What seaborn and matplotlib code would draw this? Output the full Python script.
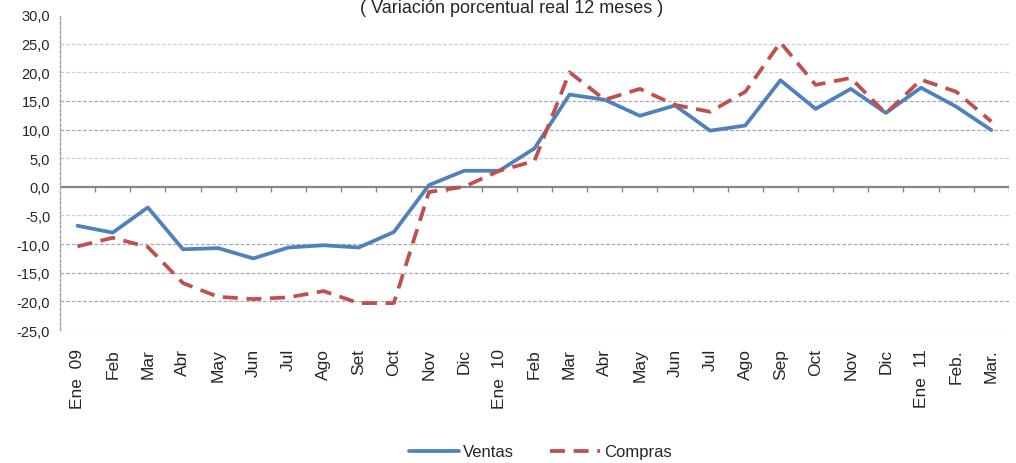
import pandas as pd
import matplotlib.pyplot as plt
import seaborn as sns
from matplotlib.ticker import FuncFormatter

# datos
meses = ['Ene  09', 'Feb', 'Mar', 'Abr', 'May', 'Jun', 'Jul', 'Ago', 'Set', 'Oct', 'Nov', 'Dic',
         'Ene  10', 'Feb', 'Mar', 'Abr', 'May', 'Jun', 'Jul', 'Ago', 'Sep', 'Oct', 'Nov', 'Dic',
         'Ene  11', 'Feb.', 'Mar.']
ventas = [-6.8, -8.0, -3.6, -10.9, -10.7, -12.5, -10.6, -10.2, -10.6, -7.9, 0.3, 2.8,
          2.8, 6.7, 16.1, 15.2, 12.4, 14.2, 9.8, 10.7, 18.6, 13.6, 17.1, 12.9,
          17.3, 14.0, 9.9]
compras = [-10.4, -8.9, -10.5, -16.8, -19.2, -19.6, -19.3, -18.2, -20.3, -20.3, -0.9, 0.0,
           2.8, 4.5, 20.0, 15.2, 17.1, 14.3, 13.1, 16.6, 25.2, 17.8, 19.0, 12.8,
           18.7, 16.6, 11.4]
y_ticks = [30, 25, 20, 15, 10, 5, 0, -5, -10, -15, -20, -25]

sns.set_style('white')
plt.rcParams['font.family'] = ['Liberation Sans', 'DejaVu Sans']

n = len(meses)
df = pd.DataFrame({
    'pos': list(range(n)) * 2,
    'valor': ventas + compras,
    'serie': ['Ventas'] * n + ['Compras'] * n,
})

fig = plt.figure(figsize=(10.16, 4.64), dpi=100)
ax = fig.add_axes([0.059, 0.2866, 0.934, 0.679])

for v in y_ticks:
    if v in (0, 30):
        continue
    c = '#a8a8b4' if abs(v) in (10, 15, 20) and v != 20 else '#cfcfd6'
    ax.axhline(v, color=c, lw=0.9, ls=(0, (3, 1.5)), zorder=0)

sns.lineplot(data=df, x='pos', y='valor', hue='serie', style='serie',
             palette={'Ventas': '#4F81BD', 'Compras': '#C0504D'},
             dashes={'Ventas': '', 'Compras': (4, 2.3)},
             linewidth=2.7, ax=ax, zorder=3)

# eje cero con marcas entre categorias
ax.axhline(0, color='#868686', lw=1.6, zorder=2)
limites = [i - 0.5 for i in range(1, n + 1)]
ax.vlines(limites, 0, -0.9, color='#868686', lw=1.0, zorder=2)

ax.set_xlim(-0.5, n - 0.5)
ax.set_ylim(-25, 30)
ax.set_yticks(y_ticks)
ax.yaxis.set_major_formatter(FuncFormatter(lambda v, p: f'{v:.1f}'.replace('.', ',')))
ax.tick_params(axis='y', length=4, color='#868686', labelsize=10.5, pad=3)
ax.set_xticks(range(n))
ax.set_xticklabels(meses, rotation=90, va='top', fontsize=12.5)
ax.tick_params(axis='x', length=0, pad=13)
ax.set_xlabel('')
ax.set_ylabel('')

for s in ['top', 'right', 'bottom']:
    ax.spines[s].set_visible(False)
ax.spines['left'].set_color('#a0a0a0')
ax.spines['left'].set_linestyle((0, (2, 1.5)))
ax.spines['left'].set_linewidth(1.0)

fig.text(0.504, 0.999, '( Variación porcentual real 12 meses )', ha='center', va='top', fontsize=13)

handles, labels = ax.get_legend_handles_labels()
ax.legend_.remove()
fig.legend(handles, labels, loc='center', bbox_to_anchor=(0.532, 0.024), ncol=2, frameon=False,
           fontsize=12, handlelength=3.0, columnspacing=2.2, handletextpad=0.2)

fig.savefig('out.png', dpi=100)
